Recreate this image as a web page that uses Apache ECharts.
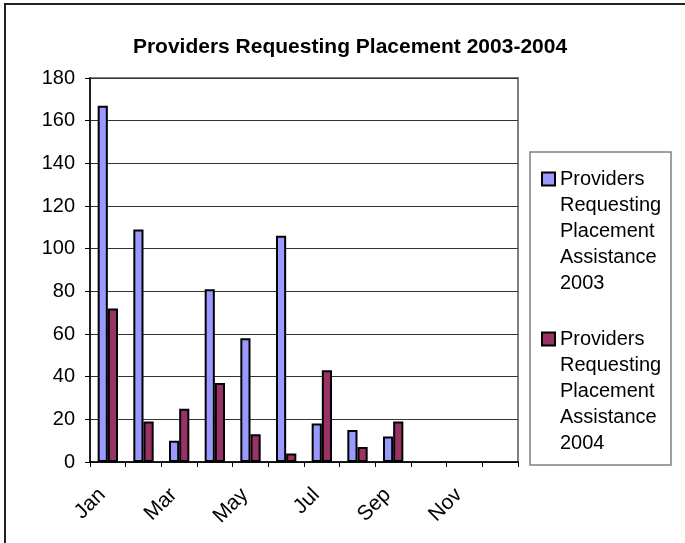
<!DOCTYPE html>
<html>
<head>
<meta charset="utf-8">
<title>Providers Requesting Placement 2003-2004</title>
<script src="https://cdn.jsdelivr.net/npm/echarts@6/dist/echarts.min.js"></script>
<style>
    html, body { margin: 0; padding: 0; background: #fff; }
    #chart_providers { width: 685px; height: 543px; }
</style>
</head>
<body>
<div id="chart_providers"></div>
<script>
var months = ['Jan', 'Feb', 'Mar', 'Apr', 'May', 'Jun', 'Jul', 'Aug', 'Sep', 'Oct', 'Nov', 'Dec'];
var names = [
    'Providers\nRequesting\nPlacement\nAssistance\n2003',
    'Providers\nRequesting\nPlacement\nAssistance\n2004'
];
var values2003 = [167, 109, 10, 81, 58, 106, 18, 15, 12, null, null, null];
var values2004 = [72, 19, 25, 37, 13, 4, 43, 7, 19, null, null, null];
var yTicks = [0, 20, 40, 60, 80, 100, 120, 140, 160, 180];

var chart_providers = echarts.init(document.getElementById('chart_providers'));

var font = 'Liberation Sans, Arial, sans-serif';
// icon is as tall as the 5 text lines, square drawn only beside the first line
var legendIcon = 'path://M0,6.5L13,6.5L13,19.5L0,19.5Z M0,0L0,0 M0,130L0,130';

var option = {
    animation: false,
    backgroundColor: '#fff',
    title: {
        text: 'Providers Requesting Placement 2003-2004',
        left: 345,
        top: 32,
        textAlign: 'center',
        textStyle: {
            fontFamily: font,
            fontSize: 21,
            fontWeight: 'bold',
            color: '#000',
            lineHeight: 21
        }
    },
    legend: {
        data: names,
        orient: 'vertical',
        left: 541,
        top: 165,
        padding: 0,
        itemGap: 28,
        itemWidth: 13,
        itemHeight: 130,
        icon: legendIcon,
        selectedMode: false,
        textStyle: {
            fontFamily: font,
            fontSize: 20,
            color: '#000',
            lineHeight: 26
        }
    },
    graphic: [
        {
            type: 'rect',
            silent: true,
            shape: {x: 5, y: 4, width: 800, height: 800},
            style: {fill: 'none', stroke: '#222', lineWidth: 2}
        },
        {
            type: 'rect',
            silent: true,
            shape: {x: 530, y: 152, width: 141, height: 313},
            style: {fill: 'none', stroke: '#808080', lineWidth: 1.5}
        }
    ],
    grid: {
        left: 90,
        top: 78,
        right: 167,
        bottom: 81,
        show: true,
        borderColor: '#808080',
        borderWidth: 2,
        containLabel: false
    },
    xAxis: {
        type: 'category',
        data: months,
        boundaryGap: true,
        axisLine: {lineStyle: {color: '#000', width: 1.5}},
        axisTick: {show: true, interval: 0, length: 5, lineStyle: {color: '#000', width: 1}},
        axisLabel: {
            interval: 1,
            rotate: 45,
            margin: 24,
            padding: [0, 8, 0, 0],
            fontFamily: font,
            fontSize: 21,
            color: '#000'
        },
        splitLine: {show: false}
    },
    yAxis: {
        type: 'value',
        min: yTicks[0],
        max: yTicks[yTicks.length - 1],
        interval: yTicks[1] - yTicks[0],
        axisLine: {show: true, lineStyle: {color: '#000', width: 1.5}},
        axisTick: {show: true, length: 5, lineStyle: {color: '#000', width: 1}},
        axisLabel: {
            margin: 15,
            fontFamily: font,
            fontSize: 20,
            color: '#000'
        },
        splitLine: {lineStyle: {color: '#333', width: 1}}
    },
    series: [
        {
            name: names[0],
            type: 'bar',
            data: values2003,
            barGap: '0%',
            barCategoryGap: '43%',
            itemStyle: {color: '#9999FF', borderColor: '#000', borderWidth: 2}
        },
        {
            name: names[1],
            type: 'bar',
            data: values2004,
            barGap: '0%',
            barCategoryGap: '43%',
            itemStyle: {color: '#993366', borderColor: '#000', borderWidth: 2}
        }
    ]
};

chart_providers.setOption(option);
window.onresize = chart_providers.resize;
</script>
</body>
</html>
